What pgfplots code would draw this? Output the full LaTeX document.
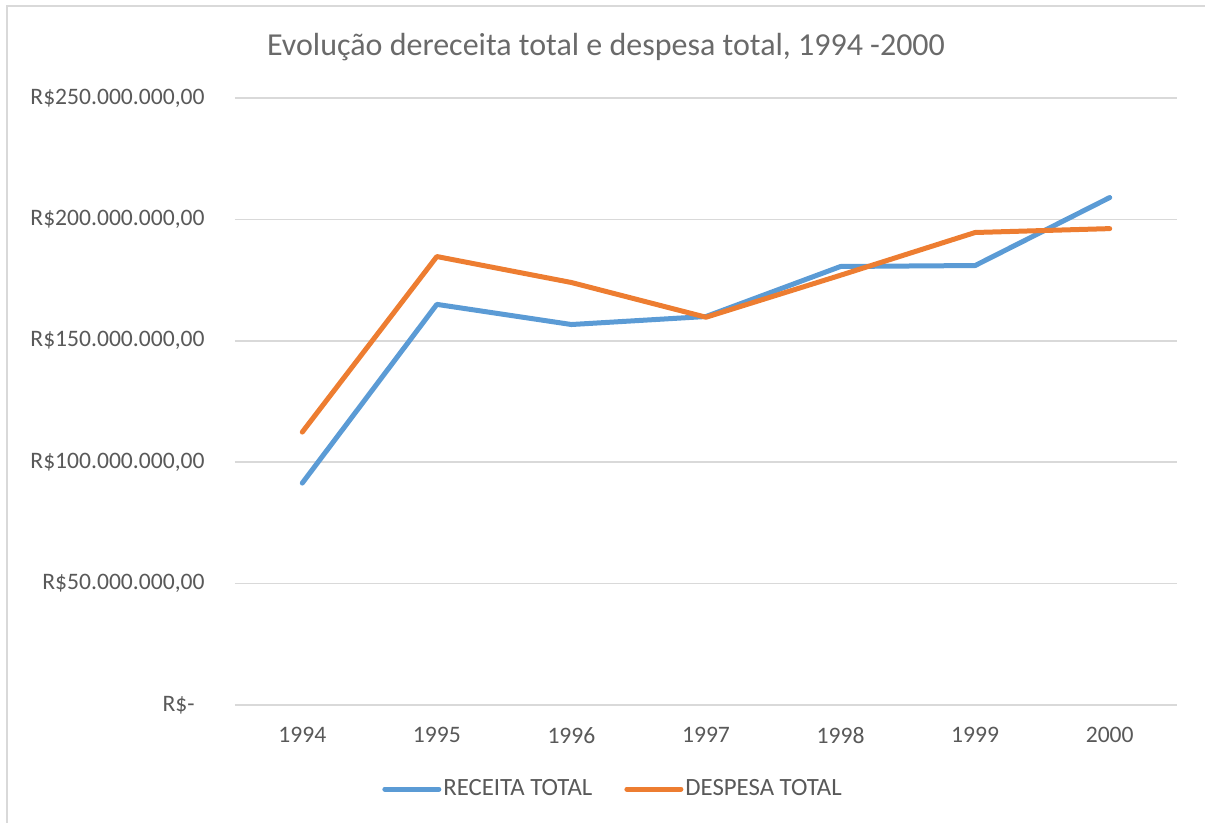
\documentclass[border=0pt]{standalone}
\usepackage{fontspec}
\setmainfont{Carlito}
\usepackage{pgfplots}
\pgfplotsset{compat=1.18}
\definecolor{rblue}{HTML}{5B9BD5}
\definecolor{dorange}{HTML}{ED7D31}
\definecolor{gridc}{HTML}{D9D9D9}
\definecolor{txt}{HTML}{595959}
\begin{document}
\begin{tikzpicture}
\path[use as bounding box] (0,0) rectangle (602.5pt,411.5pt);
\draw[gridc, line width=0.75pt] (3.5pt,0) -- (3.5pt,408.5pt) -- (602.5pt,408.5pt);
\node[txt!90, anchor=base, inner sep=0pt, font=\fontsize{16}{19}\selectfont] at (303pt,383.5pt) {Evolução dereceita total e despesa total, 1994 -2000};
\begin{axis}[
  at={(117.5pt,59pt)}, anchor=south west,
  scale only axis, width=471pt, height=303.5pt,
  xmin=-0.5, xmax=6.5, ymin=0, ymax=250000000,
  xtick={0,1,2,3,4,5,6},
  xticklabels={1994,1995,1996,1997,1998,1999,2000},
  ytick={0,50000000,100000000,150000000,200000000,250000000},
  yticklabels={{R\$-\kern5pt},{R\$50.000.000,00},{R\$100.000.000,00},{R\$150.000.000,00},{R\$200.000.000,00},{R\$250.000.000,00}},
  scaled y ticks=false,
  axis line style={draw=none},
  major tick style={draw=none},
  ymajorgrids, grid style={gridc, line width=0.75pt},
  tick label style={text=txt, font=\fontsize{11.8}{14}\selectfont},
  yticklabel style={anchor=east, inner sep=0pt, xshift=-15pt},
  xticklabel style={anchor=north, inner sep=0pt, yshift=-11pt},
  legend columns=2,
  legend style={draw=none, fill=none, inner sep=0pt, at={(0.156,-0.1384)}, anchor=west,
    nodes={inner sep=1pt, text=txt, font=\fontsize{12.4}{14}\selectfont},
    /tikz/every even column/.append style={column sep=15pt}},
  legend image code/.code={\draw[#1, line cap=round] (0pt,0pt) -- (27pt,0pt);},
  every axis plot/.append style={line width=2.5pt, line join=round, line cap=round},
]
\addplot[rblue] coordinates {(0,91400000) (1,165000000) (2,156700000) (3,160000000) (4,180600000) (5,181000000) (6,209000000)};
\addlegendentry{RECEITA TOTAL}
\addplot[dorange] coordinates {(0,112400000) (1,184700000) (2,174000000) (3,159700000) (4,177000000) (5,194600000) (6,196200000)};
\addlegendentry{DESPESA TOTAL}
\end{axis}
\end{tikzpicture}
\end{document}
